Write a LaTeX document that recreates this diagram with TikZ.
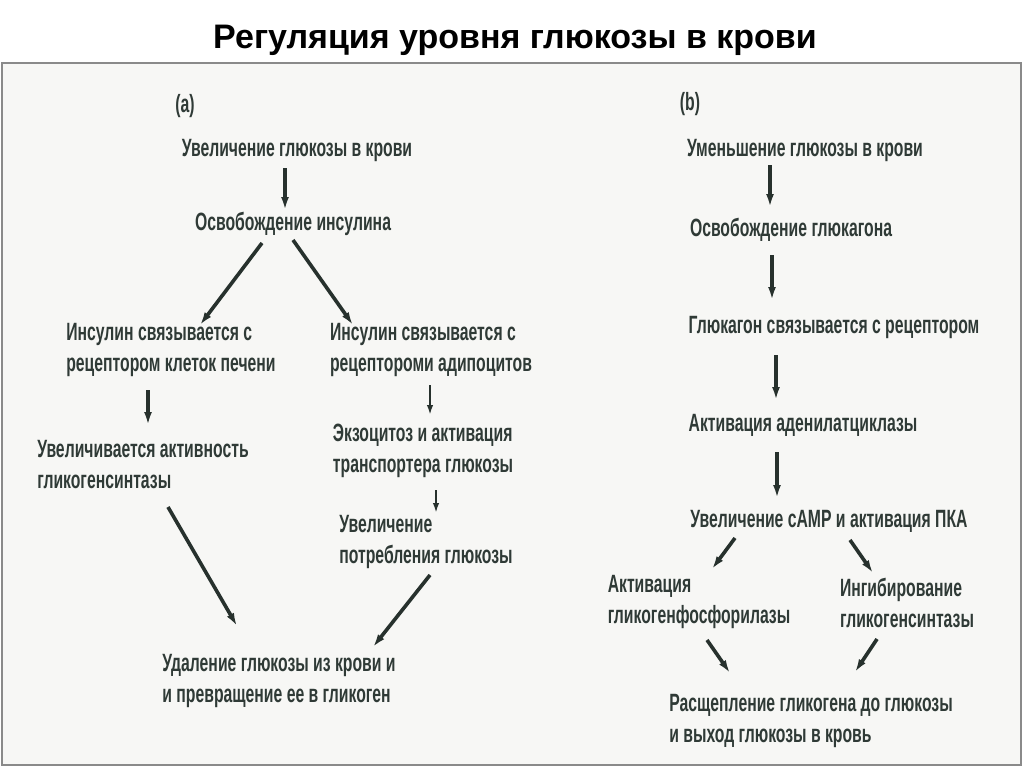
\documentclass[tikz,border=0pt]{standalone}
\usepackage{fontspec}
\setmainfont{Liberation Sans}
\newfontfamily\narrowsans{Liberation Sans}[FakeStretch=0.63]
\usetikzlibrary{arrows.meta,calc}
\definecolor{GlPanel}{HTML}{F7F7F5}
\definecolor{GlFrame}{HTML}{8A8A8A}
\definecolor{GlInk}{HTML}{2F3A36}
\definecolor{GlArrow}{HTML}{27312D}
\tikzset{
  flow/.style={-{Latex[length=13pt,width=8pt]},GlArrow,line width=3.6pt},
  flowshort/.style={flow,line width=2.6pt,-{Latex[length=10pt,width=6.5pt]}},
  stage/.style={text=GlInk,font=\narrowsans\bfseries\fontsize{25}{31}\selectfont,
                align=left,inner sep=0pt},
  panel/.style={draw=GlFrame,line width=1.6pt,fill=GlPanel},
  biglabel/.style={text=black,font=\bfseries\fontsize{34}{38}\selectfont},
}

\begin{document}
\begin{tikzpicture}[x=1pt,y=-1pt]
    \useasboundingbox[fill=white] (0,0) rectangle (1024,768);
    \node[biglabel] (title) at (515,40) {Регуляция уровня глюкозы в крови};
    \draw[panel] (2,63) rectangle (1021,765);

    % (a) insulin
    \node[stage] (aTag) at (185,106) {(a)};
    \node[stage] (aUp) at (297,150) {Увеличение глюкозы в крови};
    \node[stage] (aIns) at (293,224) {Освобождение инсулина};
    \node[stage] (aLiv) at (171,350) {Инсулин связывается с\\рецептором клеток печени};
    \node[stage] (aAdi) at (431,350) {Инсулин связывается с\\рецептороми адипоцитов};
    \node[stage] (aSyn) at (143,465) {Увеличивается активность\\гликогенсинтазы};
    \node[stage] (aExo) at (423,451) {Экзоцитоз и активация\\транспортера глюкозы};
    \node[stage] (aUpt) at (426,542) {Увеличение\\потребления глюкозы};
    \node[stage] (aRem) at (279,681) {Удаление глюкозы из крови и\\и превращение ее в гликоген};

    \draw[flow] ($(aUp)+(-12,18)$) -- ($(aIns)+(-8,-14)$);
    \draw[flow] ($(aIns)+(-31,19)$) -- ($(aLiv)+(29,-25)$);
    \draw[flow] ($(aIns)+(0,16)$) -- ($(aAdi)+(-78,-25)$);
    \draw[flow] ($(aLiv)+(-23,40)$) -- ($(aSyn)+(5,-40)$);
    \draw[flowshort] ($(aAdi)+(-1,35)$) -- ($(aExo)+(7,-36)$);
    \draw[flowshort] ($(aExo)+(13,39)$) -- ($(aUpt)+(10,-29)$);
    \draw[flow] ($(aSyn)+(25,42)$) -- ($(aRem)+(-42,-55)$);
    \draw[flow] ($(aUpt)+(4,33)$) -- ($(aRem)+(94,-34)$);

    % (b) glucagon
    \node[stage] (bTag) at (690,104) {(b)};
    \node[stage] (bDn) at (805,150) {Уменьшение глюкозы в крови};
    \node[stage] (bGlu) at (791,230) {Освобождение глюкагона};
    \node[stage] (bRec) at (834,327) {Глюкагон связывается с рецептором};
    \node[stage] (bAC) at (803,425) {Активация аденилатциклазы};
    \node[stage] (bPKA) at (829,521) {Увеличение cAMP и активация ПКА};
    \node[stage] (bPho) at (699,602) {Активация\\гликогенфосфорилазы};
    \node[stage] (bInh) at (907,603) {Ингибирование\\гликогенсинтазы};
    \node[stage] (bOut) at (811,721) {Расщепление гликогена до глюкозы\\и выход глюкозы в кровь};

    \draw[flow] ($(bDn)+(-35,15)$) -- ($(bGlu)+(-21,-23)$);
    \draw[flow] ($(bGlu)+(-19,25)$) -- ($(bRec)+(-62,-27)$);
    \draw[flow] ($(bRec)+(-58,28)$) -- ($(bAC)+(-27,-25)$);
    \draw[flow] ($(bAC)+(-26,27)$) -- ($(bPKA)+(-52,-23)$);
    \draw[flow] ($(bPKA)+(-94,17)$) -- ($(bPho)+(13,-33)$);
    \draw[flow] ($(bPKA)+(21,19)$) -- ($(bInh)+(-34,-30)$);
    \draw[flow] ($(bPho)+(8,38)$) -- ($(bOut)+(-81,-48)$);
    \draw[flow] ($(bInh)+(-30,36)$) -- ($(bOut)+(44,-49)$);
\end{tikzpicture}
\end{document}
